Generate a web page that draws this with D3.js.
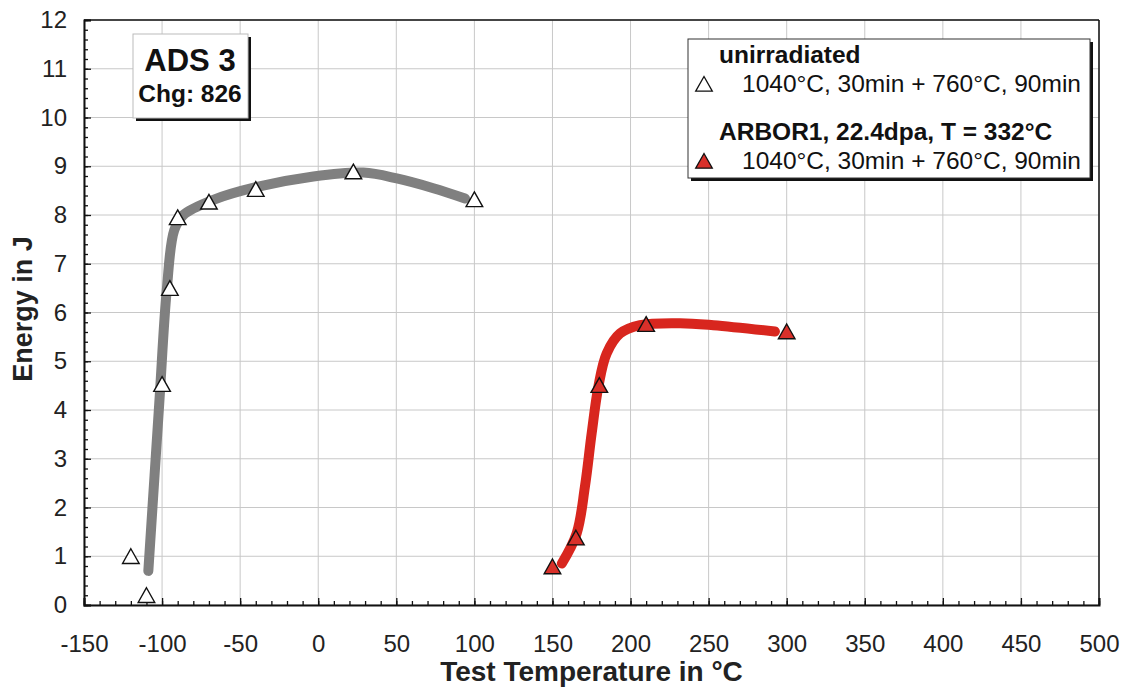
<!DOCTYPE html>
<html>
<head>
<meta charset="utf-8">
<script src="https://cdn.jsdelivr.net/npm/d3@7"></script>
<style>
  body { margin: 0; background: #fff; }
  svg { font-family: "Liberation Sans", Arial, sans-serif; }
</style>
</head>
<body>
<div id="chart"></div>
<script>
// measured points (test temperature in °C, energy in J)
var unirrTemp   = [-120, -110, -100, -95, -90, -70, -40, 22.5, 100];
var unirrEnergy = [1.0, 0.2, 4.53, 6.5, 7.95, 8.27, 8.53, 8.89, 8.32];

var irrTemp   = [150, 165, 180, 210, 300];
var irrEnergy = [0.79, 1.38, 4.51, 5.76, 5.61];

// fitted curves
var unirrFitTemp   = [-108.8, -101.8, -97, -92.2, -86.4, -67.2, -39.9, -3.1, 28.9, 50.3, 73.7, 94];
var unirrFitEnergy = [0.70, 4.14, 6.46, 7.69, 8.0, 8.31, 8.57, 8.79, 8.87, 8.75, 8.55, 8.34];

var irrFitTemp   = [156, 165.5, 170.8, 175.1, 179.4, 184.7, 193.3, 206.1, 231.7, 253, 292.5];
var irrFitEnergy = [0.85, 1.47, 2.43, 3.52, 4.48, 5.16, 5.57, 5.74, 5.78, 5.74, 5.61];

var xTicks = [-150, -100, -50, 0, 50, 100, 150, 200, 250, 300, 350, 400, 450, 500];
var yTicks = [0, 1, 2, 3, 4, 5, 6, 7, 8, 9, 10, 11, 12];

var legendTitles = ["unirradiated", "ARBOR1, 22.4dpa, T = 332°C"];
var legendLabels = ["1040°C, 30min + 760°C, 90min", "1040°C, 30min + 760°C, 90min"];
var legendFills  = ["#ffffff", "#d9302a"];

var margin = {top: 20, right: 26, bottom: 85, left: 84},
    width = 1125 - margin.left - margin.right,
    height = 690 - margin.top - margin.bottom;

var svg = d3.select("#chart")
  .append("svg")
    .attr("width", 1125)
    .attr("height", 690)
  .append("g")
    .attr("transform", "translate(" + margin.left + "," + margin.top + ")");

var x = d3.scaleLinear().domain([-150, 500]).range([0, width]);
var y = d3.scaleLinear().domain([0, 12]).range([height, 0]);

// grid
svg.selectAll(".gx").data(xTicks).enter().append("line")
  .attr("x1", function(d) { return x(d); }).attr("x2", function(d) { return x(d); })
  .attr("y1", 0).attr("y2", height)
  .style("stroke", "#c8c8c8").style("stroke-width", 1);
svg.selectAll(".gy").data(yTicks).enter().append("line")
  .attr("y1", function(d) { return y(d); }).attr("y2", function(d) { return y(d); })
  .attr("x1", 0).attr("x2", width)
  .style("stroke", "#c8c8c8").style("stroke-width", 1);

// axes (ticks point inward)
var xMinor = d3.range(-150, 501, 10);
var yMinor = d3.range(0, 12.01, 0.2);
var plain = function(d) { return String(d); };

var xAxis = svg.append("g")
  .attr("transform", "translate(0," + height + ")")
  .call(d3.axisBottom(x).tickValues(xTicks).tickSize(-7).tickPadding(30).tickFormat(plain));
svg.append("g")
  .attr("transform", "translate(0," + height + ")")
  .call(d3.axisBottom(x).tickValues(xMinor).tickSize(-4).tickFormat(""))
  .select(".domain").remove();

var yAxis = svg.append("g")
  .call(d3.axisLeft(y).tickValues(yTicks).tickSize(-7).tickPadding(17).tickFormat(plain));
svg.append("g")
  .call(d3.axisLeft(y).tickValues(yMinor).tickSize(-4).tickFormat(""))
  .select(".domain").remove();

svg.selectAll(".tick line").style("stroke", "#111").style("stroke-width", 1.3);
svg.selectAll(".domain").style("stroke", "#111").style("stroke-width", 2);
xAxis.selectAll("text").style("font-size", "24px").style("fill", "#222");
yAxis.selectAll("text").style("font-size", "24px").style("fill", "#222");

// frame top / right
svg.append("line").attr("x1", 0).attr("x2", width).attr("y1", 0).attr("y2", 0)
  .style("stroke", "#111").style("stroke-width", 1.5);
svg.append("line").attr("x1", width).attr("x2", width).attr("y1", 0).attr("y2", height)
  .style("stroke", "#111").style("stroke-width", 1.5);

// axis titles
svg.append("text")
  .attr("x", width / 2).attr("y", height + 76)
  .attr("text-anchor", "middle")
  .style("font-size", "28px").style("font-weight", "bold").style("fill", "#222")
  .text("Test Temperature in °C");
svg.append("text")
  .attr("transform", "translate(" + (-52) + "," + 289 + ") rotate(-90)")
  .attr("text-anchor", "middle")
  .style("font-size", "27px").style("font-weight", "bold").style("fill", "#222")
  .text("Energy in J");

// fit curves
var line = d3.line()
  .x(function(d) { return x(d[0]); })
  .y(function(d) { return y(d[1]); })
  .curve(d3.curveCatmullRom.alpha(0.5));

svg.append("path")
  .datum(d3.zip(unirrFitTemp, unirrFitEnergy))
  .attr("d", line)
  .style("fill", "none").style("stroke", "#808080")
  .style("stroke-width", 10).style("stroke-linecap", "round");
svg.append("path")
  .datum(d3.zip(irrFitTemp, irrFitEnergy))
  .attr("d", line)
  .style("fill", "none").style("stroke", "#d8261e")
  .style("stroke-width", 10).style("stroke-linecap", "round");

// markers
var tri = "M0,-7.5L8.3,7.2L-8.3,7.2Z";
svg.selectAll(".unirr")
  .data(d3.zip(unirrTemp, unirrEnergy))
  .enter().append("path")
  .attr("d", tri)
  .attr("transform", function(d) { return "translate(" + x(d[0]) + "," + y(d[1]) + ")"; })
  .style("fill", "#fff").style("stroke", "#111").style("stroke-width", 1.4);
svg.selectAll(".irr")
  .data(d3.zip(irrTemp, irrEnergy))
  .enter().append("path")
  .attr("d", tri)
  .attr("transform", function(d) { return "translate(" + x(d[0]) + "," + y(d[1]) + ")"; })
  .style("fill", "#d9302a").style("stroke", "#111").style("stroke-width", 1.4);

// ADS 3 label box
var lb = svg.append("g").attr("transform", "translate(" + (133 - margin.left) + "," + (34 - margin.top) + ")");
lb.append("rect").attr("x", 3).attr("y", 3).attr("width", 115).attr("height", 84).style("fill", "#111");
lb.append("rect").attr("width", 115).attr("height", 84)
  .style("fill", "#fff").style("stroke", "#bbb").style("stroke-width", 1);
lb.append("text").attr("x", 57).attr("y", 37).attr("text-anchor", "middle")
  .style("font-size", "31px").style("font-weight", "bold").style("fill", "#111").text("ADS 3");
lb.append("text").attr("x", 57).attr("y", 68).attr("text-anchor", "middle")
  .style("font-size", "24.5px").style("font-weight", "bold").style("fill", "#111").text("Chg: 826");

// legend
var lg = svg.append("g").attr("transform", "translate(" + (688 - margin.left) + "," + (39 - margin.top) + ")");
lg.append("rect").attr("x", 3).attr("y", 3).attr("width", 402).attr("height", 139).style("fill", "#111");
lg.append("rect").attr("width", 402).attr("height", 139)
  .style("fill", "#fff").style("stroke", "#333").style("stroke-width", 1);
legendTitles.forEach(function(t, i) {
  var oy = i * 77;
  lg.append("text").attr("x", 31).attr("y", 24 + oy)
    .style("font-size", "24.5px").style("font-weight", "bold").style("fill", "#111").text(t);
  lg.append("path").attr("d", tri)
    .attr("transform", "translate(16," + (45 + oy) + ")")
    .style("fill", legendFills[i]).style("stroke", "#111").style("stroke-width", 1.3);
  lg.append("text").attr("x", 54).attr("y", 53 + oy)
    .style("font-size", "24.5px").style("fill", "#111").text(legendLabels[i]);
});
</script>
</body>
</html>
